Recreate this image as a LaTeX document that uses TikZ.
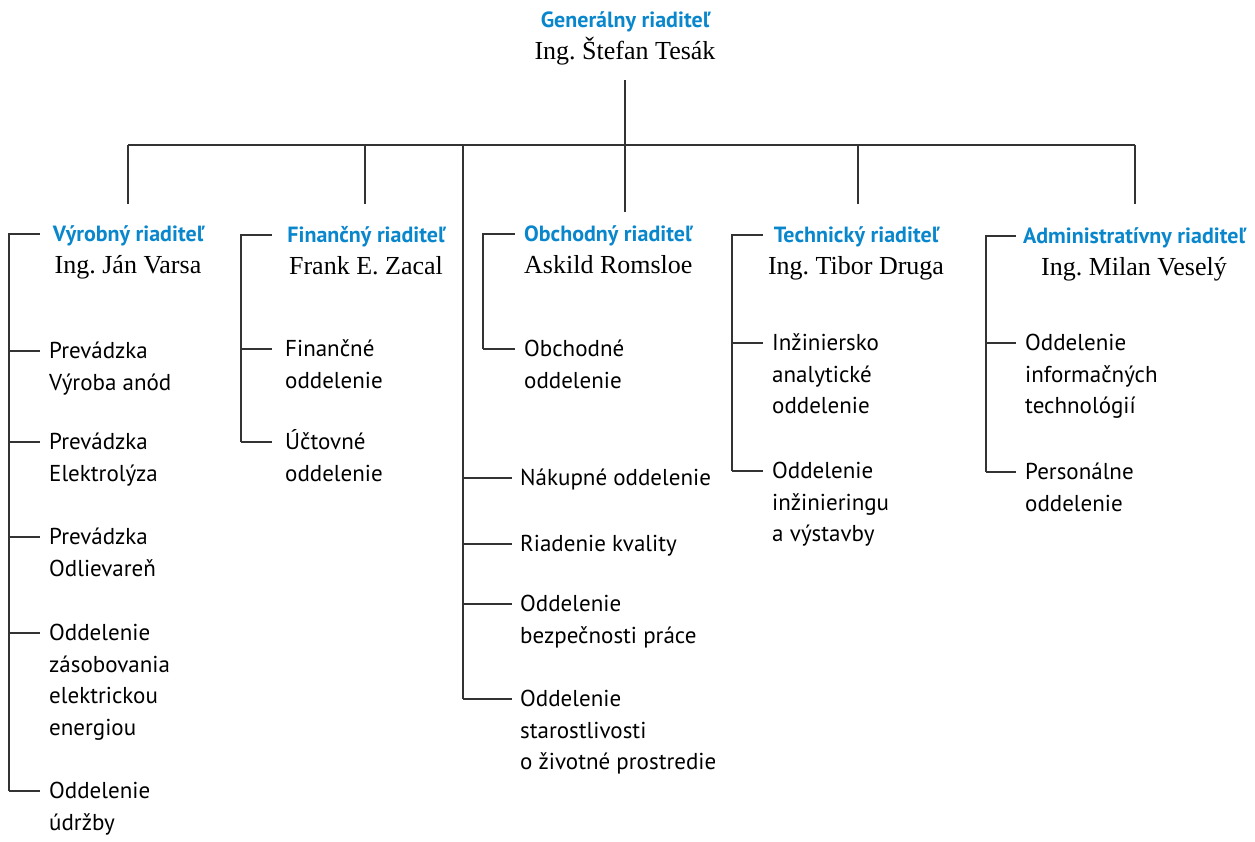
\documentclass[tikz,border=0pt]{standalone}
\usepackage{fontspec}
\newfontfamily\itemfont{PT Sans}
\newfontfamily\namefont{Liberation Serif}
\definecolor{headblue}{HTML}{0A87CC}
\definecolor{linec}{HTML}{333333}
\frenchspacing
\newcommand{\items}[1]{\vtop{\baselineskip=31.5pt\lineskiplimit=-100pt\lineskip=0pt\halign{##\hfil\cr#1\cr}}}
% name, bracket x, text x, tick y, gap, text
\newcommand{\dept}[6]{%
  \node[item] (#1) at (#3,#4+7.5) {\items{#6}};
  \draw[conn] ([shift={(-#5pt,7.5pt)}]#1.base west) -- (#2,#4);
}
\tikzset{
  conn/.style={draw=linec, line width=1.1pt},
  item/.style={anchor=base west, inner sep=0pt, font=\itemfont\fontsize{23}{31.5}\selectfont},
  head/.style={anchor=base, inner sep=0pt, text=headblue, font=\itemfont\bfseries\fontsize{22}{26}\selectfont},
  pname/.style={anchor=base, inner sep=0pt, font=\namefont\fontsize{26}{30}\selectfont}
}
\begin{document}
\begin{tikzpicture}[x=1pt,y=-1pt]
\useasboundingbox (0,0) rectangle (1255,842);
% top
\node[head] (gh) at (625,28) {Generálny riaditeľ};
\node[pname] (gn) at (625,60) {Ing. Štefan Tesák};
\coordinate (gtop) at (625,80);
\coordinate (bus) at (625,145);
\coordinate (busL) at (128,145);
\coordinate (busR) at (1135,145);
\draw[conn] (gtop) -- (bus);
\draw[conn] (busL) -- (busR);
% drops
\coordinate (d1) at (128,204);
\coordinate (d2) at (365,204);
\coordinate (d3) at (625,212);
\coordinate (d4) at (858,204);
\coordinate (d5) at (1135,204);
\coordinate (dm) at (463,699);
\draw[conn] (busL) -- (d1);
\draw[conn] (d2 |- busL) -- (d2);
\draw[conn] (bus) -- (d3);
\draw[conn] (d4 |- busL) -- (d4);
\draw[conn] (busR) -- (d5);
\draw[conn] (dm |- busL) -- (dm);
% headers
\node[head] (h1) at (128,242) {Výrobný riaditeľ};
\node[pname] (n1) at (128,274) {Ing. Ján Varsa};
\node[head] (h2) at (366,243) {Finančný riaditeľ};
\node[pname] (n2) at (366,275) {Frank E. Zacal};
\node[head, anchor=base west] (h3) at (524,242) {Obchodný riaditeľ};
\node[pname, anchor=base west] (n3) at (524,274) {Askild Romsloe};
\node[head] (h4) at (856,243) {Technický riaditeľ};
\node[pname] (n4) at (856,275) {Ing. Tibor Druga};
\node[head] (h5) at (1134,244) {Administratívny riaditeľ};
\node[pname] (n5) at (1134,276) {Ing. Milan Veselý};
% brackets
\coordinate (k1) at (40,234);   \coordinate (k1b) at (9,791);
\coordinate (k2) at (272,235);  \coordinate (k2b) at (241,442);
\coordinate (k3) at (515,234);  \coordinate (k3b) at (483,349);
\coordinate (k4) at (763,235);  \coordinate (k4b) at (732,471);
\coordinate (k5) at (1016,236); \coordinate (k5b) at (986,472);
\draw[conn] (k1) -| (k1b);
\draw[conn] (k2) -| (k2b);
\draw[conn] (k3) -| (k3b);
\draw[conn] (k4) -| (k4b);
\draw[conn] (k5) -| (k5b);
% column 1
\dept{a1}{9}{49}{351}{9}{Prevádzka\cr Výroba anód}
\dept{a2}{9}{49}{442}{9}{Prevádzka\cr Elektrolýza}
\dept{a3}{9}{49}{537}{9}{Prevádzka\cr Odlievareň}
\dept{a4}{9}{49}{633}{9}{Oddelenie\cr zásobovania\cr elektrickou\cr energiou}
\dept{a5}{9}{49}{791}{9}{Oddelenie\cr údržby}
% column 2
\dept{b1}{241}{285}{349}{13}{Finančné\cr oddelenie}
\dept{b2}{241}{285}{442}{13}{Účtovné\cr oddelenie}
% column 3
\dept{c1}{483}{524}{349}{9}{Obchodné\cr oddelenie}
% middle
\dept{m1}{463}{520}{478}{8}{Nákupné oddelenie}
\dept{m2}{463}{520}{544}{8}{Riadenie kvality}
\dept{m3}{463}{520}{604}{8}{Oddelenie\cr bezpečnosti práce}
\dept{m4}{463}{520}{699}{8}{Oddelenie\cr starostlivosti\cr o životné prostredie}
% column 4
\dept{e1}{732}{772}{343}{9}{Inžiniersko\cr analytické\cr oddelenie}
\dept{e2}{732}{772}{471}{9}{Oddelenie\cr inžinieringu\cr a výstavby}
% column 5
\dept{f1}{986}{1025}{343}{9}{Oddelenie\cr informačných\cr technológií}
\dept{f2}{986}{1025}{472}{9}{Personálne\cr oddelenie}
\end{tikzpicture}
\end{document}
